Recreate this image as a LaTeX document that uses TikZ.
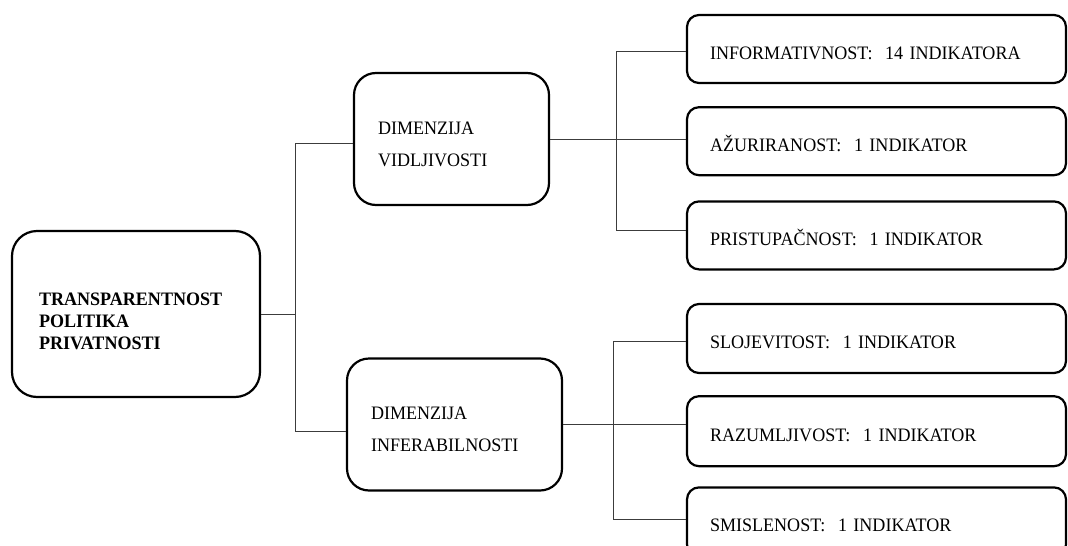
\documentclass[tikz,border=0pt]{standalone}
\usepackage{fontspec}
\setmainfont[FakeStretch=0.95]{Liberation Serif}
\usepackage{tikz}
\usetikzlibrary{positioning}
\definecolor{linegray}{RGB}{60,60,60}
\tikzset{
  rootbox/.style={
    rectangle, rounded corners=25pt, draw=black, line width=2.2pt,
    minimum width=248pt, minimum height=166pt, inner sep=0pt,
    text width=194pt, align=left,
    font=\fontsize{19}{22}\selectfont\bfseries
  },
  dimbox/.style={
    rectangle, rounded corners=22pt, draw=black, line width=2.2pt,
    minimum height=132pt, inner sep=0pt, align=left,
    font=\fontsize{19}{32}\selectfont
  },
  indbox/.style={
    rectangle, rounded corners=12pt, draw=black, line width=2.2pt,
    minimum width=379pt, minimum height=68pt, inner sep=0pt,
    text width=333pt, align=left, text height=20pt, text depth=0pt,
    font=\fontsize{19}{22}\selectfont
  },
  link/.style={line width=1pt, color=linegray},
}

\begin{document}
\begin{tikzpicture}[x=1pt, y=-1pt, node distance=22pt]
  \useasboundingbox (0,0) rectangle (1068,546);
  \clip (0,0) rectangle (1068,546);

  \node (root) [rootbox] at (136,314) {\rule{0pt}{27pt}TRANSPARENTNOST\\POLITIKA\\PRIVATNOSTI};
  \node (vid)  [dimbox, minimum width=195pt, text width=147pt] at (451.5,139) {\rule{0pt}{23pt}DIMENZIJA\\VIDLJIVOSTI};
  \node (inf)  [dimbox, minimum width=215pt, text width=167pt] at (454.5,424.5) {\rule{0pt}{23pt}DIMENZIJA\\INFERABILNOSTI};

  \node (info)  [indbox]                    at (876.5,49) {INFORMATIVNOST:\ \ 14 INDIKATORA};
  \node (azur)  [indbox, below=22pt of info]  {AŽURIRANOST:\ \ 1 INDIKATOR};
  \node (prist) [indbox, below=24pt of azur]  {PRISTUPAČNOST:\ \ 1 INDIKATOR};
  \node (sloj)  [indbox, minimum height=69pt] at (876.5,338.5) {SLOJEVITOST:\ \ 1 INDIKATOR};
  \node (razum) [indbox, minimum height=70pt, below=21pt of sloj]  {RAZUMLJIVOST:\ \ 1 INDIKATOR};
  \node (smisl) [indbox, minimum height=69pt, below=19pt of razum] {SMISLENOST:\ \ 1 INDIKATOR};

  \coordinate (bustop) at (295,143);
  \coordinate (busbot) at (295,431);
  \coordinate (vtop) at (616,51);
  \coordinate (vbot) at (616,230);
  \coordinate (itop) at (613,341);
  \coordinate (ibot) at (613,519);

  \draw [link] (root.east) -- (root.east -| bustop);
  \draw [link] (bustop) -- (busbot);
  \draw [link] (bustop) -- (bustop -| vid.west);
  \draw [link] (busbot) -- (busbot -| inf.west);

  \draw [link] (vid.east) -- (vid.east -| azur.west);
  \draw [link] (vtop) -- (vbot);
  \draw [link] (vtop) -- (vtop -| info.west);
  \draw [link] (vbot) -- (vbot -| prist.west);

  \draw [link] (inf.east) -- (inf.east -| razum.west);
  \draw [link] (itop) -- (ibot);
  \draw [link] (itop) -- (itop -| sloj.west);
  \draw [link] (ibot) -- (ibot -| smisl.west);
\end{tikzpicture}
\end{document}
